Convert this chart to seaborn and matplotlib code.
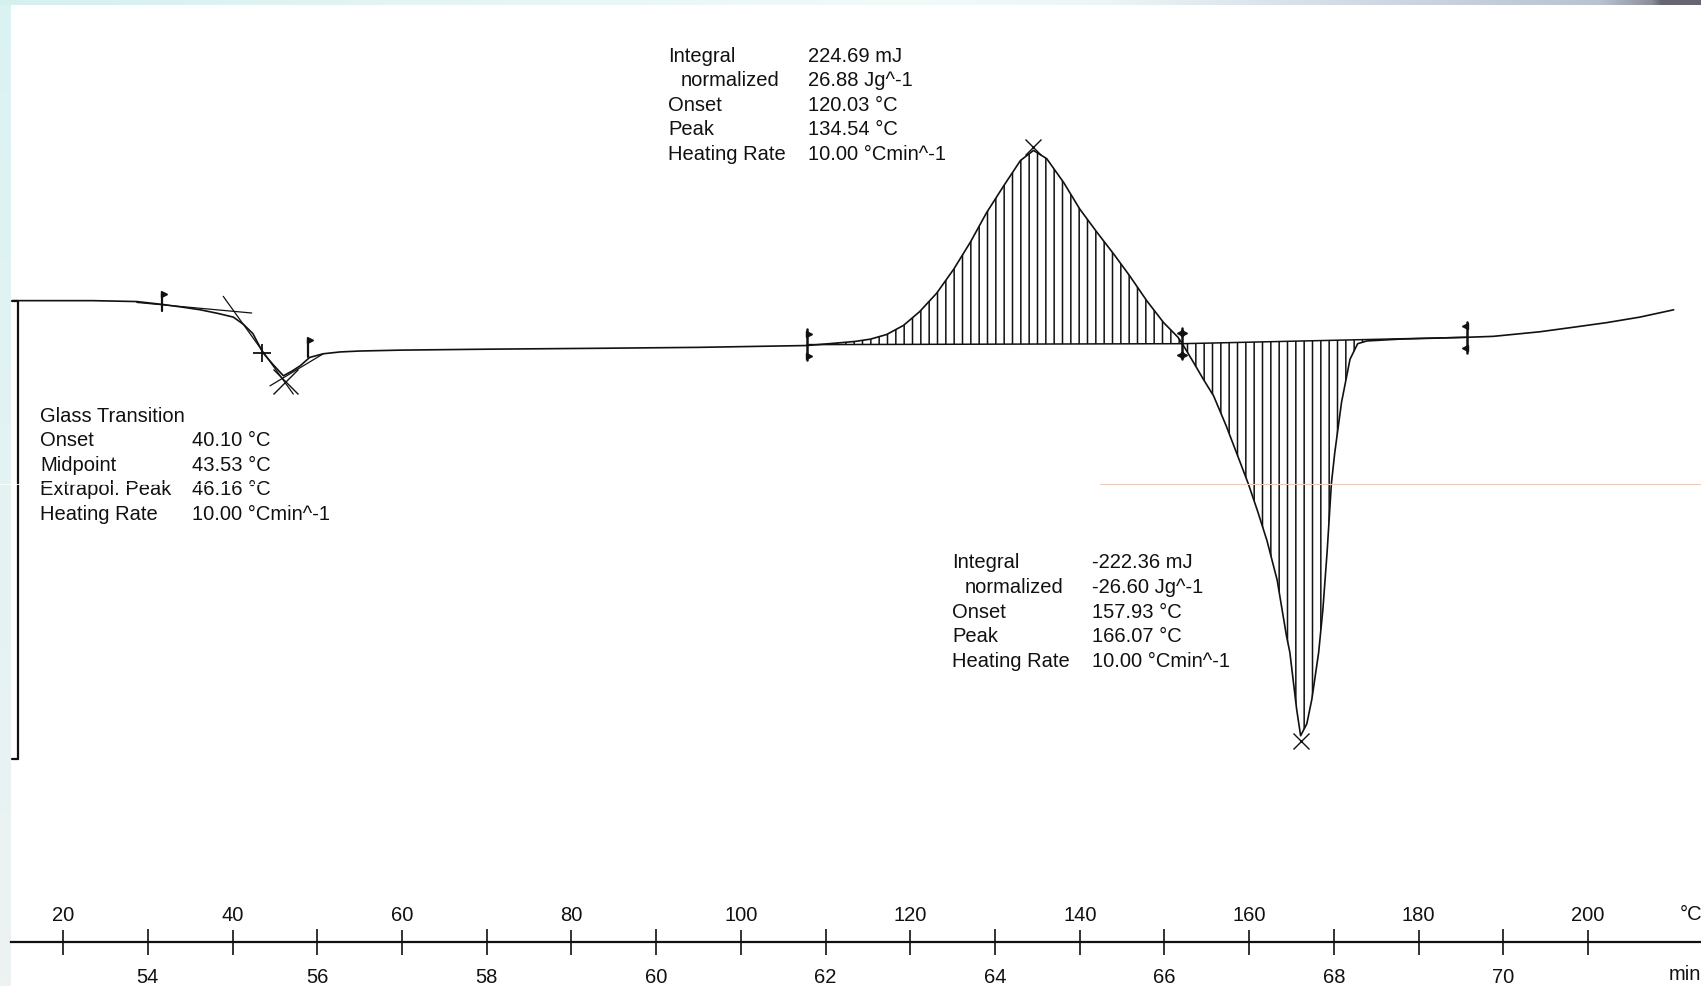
import numpy as np
import matplotlib
matplotlib.use("Agg")
import matplotlib.pyplot as plt
from matplotlib.lines import Line2D
import seaborn as sns

# ---------------------------------------------------------------------------
# DSC heating scan (10 °C/min): sample temperature (°C) vs heat flow (mW, exo up)
# ---------------------------------------------------------------------------
temperature = [
    14.05, 18.0, 23.5, 28.7, 31.6, 34.0, 36.2, 38.3, 40.1, 41.3, 42.4, 43.6,
    44.8, 46.0, 47.0, 48.0, 49.1, 50.7, 52.7, 55.0, 60.0, 70.0, 83.4, 95.0,
    107.8, 111.7, 113.5, 115.3, 117.2, 119.2, 121.1, 123.1, 125.1, 127.1, 129.0,
    131.0, 133.0, 134.54, 136.1, 138.1, 140.0, 142.0, 144.0, 145.9, 147.9,
    149.9, 151.6, 152.1, 153.4, 154.6, 155.8, 157.3, 158.5, 159.9, 161.0,
    162.1, 163.3, 164.4, 164.8, 165.6, 166.07, 166.8, 167.4, 168.2, 168.7,
    169.2, 169.7, 170.1, 170.9, 171.9, 172.8, 173.9, 177.8, 185.7, 188.8,
    194.3, 198.3, 202.2, 206.1, 210.1,
]
heat_flow = [
    0.00, 0.00, 0.00, -0.01, -0.04, -0.07, -0.10, -0.14, -0.18, -0.26, -0.36, -0.57,
    -0.70, -0.82, -0.77, -0.71, -0.62, -0.58, -0.56, -0.55, -0.54, -0.53, -0.52, -0.51,
    -0.49, -0.46, -0.445, -0.42, -0.37, -0.27, -0.12, 0.08, 0.34, 0.64, 0.96,
    1.25, 1.53, 1.64, 1.55, 1.29, 1.00, 0.75, 0.51, 0.27, 0.00,
    -0.24, -0.40, -0.47, -0.67, -0.86, -1.04, -1.37, -1.66, -2.00, -2.30,
    -2.62, -3.05, -3.66, -3.84, -4.46, -4.75, -4.62, -4.35, -3.84, -3.37,
    -2.74, -2.00, -1.66, -1.11, -0.64, -0.47, -0.44, -0.42, -0.40, -0.39,
    -0.34, -0.29, -0.24, -0.18, -0.10,
]

# Axis ticks
temp_ticks = [20, 40, 60, 80, 100, 120, 140, 160, 180, 200]
time_ticks = [54, 56, 58, 60, 62, 64, 66, 68, 70]

# Glass transition evaluation
gt_labels = ["Glass Transition", "Onset", "Midpoint", "Extrapol. Peak", "Heating Rate"]
gt_values = ["", "40.10 °C", "43.53 °C", "46.16 °C", "10.00 °Cmin^-1"]
gt_midpoint = (43.53, -0.57)
gt_extrapol_peak = (46.16, -0.88)
gt_tangents = [
    ([28.7, 42.26], [-0.02, -0.135]),
    ([38.9, 47.17], [0.047, -1.02]),
    ([44.42, 50.71], [-0.93, -0.58]),
]
gt_limits = [(31.64, -0.05), (48.94, -0.55)]

# Exothermic (cold crystallisation) peak
exo_labels = ["Integral", "normalized", "Onset", "Peak", "Heating Rate"]
exo_values = ["224.69 mJ", "26.88 Jg^-1", "120.03 °C", "134.54 °C", "10.00 °Cmin^-1"]
exo_peak = (134.54, 1.64)
exo_baseline = ([107.8, 152.1], [-0.48, -0.47])

# Endothermic (melting) peak
endo_labels = ["Integral", "normalized", "Onset", "Peak", "Heating Rate"]
endo_values = ["-222.36 mJ", "-26.60 Jg^-1", "157.93 °C", "166.07 °C", "10.00 °Cmin^-1"]
endo_peak = (166.07, -4.75)
endo_baseline = ([152.1, 185.7], [-0.47, -0.40])

# 5 mW heat-flow scale bar
scale_bar = ([14.7, 14.7], [0.0, -5.0])

T_START, T_END = 12.55, 213.33
HF_MIN, HF_MAX = -7.482, 3.293
W, H = 1701, 987


def T_to_time(T):
    return 54.0 + (np.asarray(T) - 30.0) / 10.0


def time_to_T(t):
    return 30.0 + (np.asarray(t) - 54.0) * 10.0


sns.set_theme(style="white")
plt.rcParams["font.family"] = ["Liberation Sans", "DejaVu Sans"]
plt.rcParams["hatch.linewidth"] = 1.1
FS = 14.5
INK = "#111111"

fig = plt.figure(figsize=(W / 100, H / 100), dpi=100)

# Window background: pale cyan frame with a darkening title strip on the right
bg = np.ones((H, W, 3))
xs = np.arange(W)
stops_x = [0, 900, 1100, 1600, 1650, 1660, W]
stops_c = np.array([
    [0.84, 0.94, 0.94], [0.95, 0.98, 0.98], [0.93, 0.96, 0.97],
    [0.72, 0.76, 0.82], [0.55, 0.56, 0.60], [0.40, 0.40, 0.44], [0.40, 0.40, 0.44],
])
strip = np.stack([np.interp(xs, stops_x, stops_c[:, c]) for c in range(3)], axis=-1)
bg[:6, :, :] = strip[None, :, :]
ys = np.arange(H)
left_col = np.stack([np.interp(ys, [0, H], [0.86, 0.93]),
                     np.interp(ys, [0, H], [0.95, 0.95]),
                     np.interp(ys, [0, H], [0.95, 0.95])], axis=-1)
bg[6:, :11, :] = left_col[6:, None, :]
bgax = fig.add_axes([0, 0, 1, 1], zorder=-5)
bgax.imshow(bg, aspect="auto", interpolation="nearest")
bgax.axis("off")

# Main plotting area
ax = fig.add_axes([0, 0, 1, 1])
ax.patch.set_alpha(0)
ax.set_xlim(T_START, T_END)
ax.set_ylim(HF_MIN, HF_MAX)
ax.axis("off")

T = np.array(temperature)
HF = np.array(heat_flow)

# Hatched peak areas between curve and integration baselines
m = (T >= exo_baseline[0][0]) & (T <= exo_baseline[0][1])
ax.fill_between(T[m], np.interp(T[m], *exo_baseline), HF[m], facecolor="none",
                edgecolor=INK, hatch="||", linewidth=0)
m = (T >= endo_baseline[0][0]) & (T <= 177.8)
ax.fill_between(T[m], np.interp(T[m], *endo_baseline), HF[m], facecolor="none",
                edgecolor=INK, hatch="||", linewidth=0)

ax.plot(*exo_baseline, color=INK, lw=1.1)
ax.plot(*endo_baseline, color=INK, lw=1.1)

# Heat-flow curve
sns.lineplot(x=T, y=HF, ax=ax, color=INK, lw=1.2, sort=False, estimator=None)

# Scale bar
ax.plot(*scale_bar, color=INK, lw=1.6)
for yv in scale_bar[1]:
    ax.plot([13.95, 14.7], [yv, yv], color=INK, lw=1.6)

# Glass transition construction
for xs_, ys_ in gt_tangents:
    ax.plot(xs_, ys_, color=INK, lw=0.9)
ax.plot(*gt_midpoint, marker="+", ms=13, mew=1.3, color=INK)
ax.plot(*gt_extrapol_peak, marker="x", ms=18, mew=1.0, color=INK)
for tx, hv in gt_limits:
    ax.plot([tx, tx], [hv + 0.12, hv - 0.06], color=INK, lw=1.6)
    ax.plot(tx + 0.25, hv + 0.12, marker=">", ms=5, color=INK)

# Integration limit markers
for tx, hv, mk in [(107.8, -0.48, [">"]), (152.1, -0.47, ["<", ">"]), (185.7, -0.40, ["<"])]:
    ax.plot([tx, tx], [hv + 0.17, hv - 0.17], color=INK, lw=1.8)
    for k in mk:
        off = 0.25 if k == ">" else -0.25
        ax.plot(tx + off, hv + 0.12, marker=k, ms=5, color=INK)
        ax.plot(tx + off, hv - 0.12, marker=k, ms=5, color=INK)

# Peak markers
ax.plot(exo_peak[0], exo_peak[1] + 0.04, marker="x", ms=11, mew=1.0, color=INK)
ax.plot(endo_peak[0], endo_peak[1] - 0.06, marker="x", ms=12, mew=1.0, color=INK)


def px_text(x, y, s):
    fig.text(x / W, 1 - y / H, s, ha="left", va="center", fontsize=FS, color=INK)


def block(x_lab, x_val, y0, labels, values, indent_idx=None, dy=24.6):
    for i, (lab, val) in enumerate(zip(labels, values)):
        xl = x_lab + (13 if i == indent_idx else 0)
        px_text(xl, y0 + i * dy, lab)
        if val:
            px_text(x_val, y0 + i * dy, val)


block(668, 808, 56, exo_labels, exo_values, indent_idx=1)
block(40, 192, 416, gt_labels, gt_values)
block(952, 1092, 563, endo_labels, endo_values, indent_idx=1)

# Dual temperature / time axis
axis_y = 942.7
x0 = 11
axx = fig.add_axes([x0 / W, 1 - axis_y / H, 1 - x0 / W, 0])
axx.patch.set_alpha(0)
axx.set_xlim(T_START + x0 / 8.472, T_END)
for s in ["top", "left", "right"]:
    axx.spines[s].set_visible(False)
axx.spines["bottom"].set_color(INK)
axx.spines["bottom"].set_linewidth(1.6)
axx.set_yticks([])
axx.set_xticks(temp_ticks)
axx.set_xticklabels([str(v) for v in temp_ticks])
axx.tick_params(axis="x", bottom=True, top=False, labelbottom=False, labeltop=True,
                direction="inout", length=18, width=1.2, color=INK,
                labelsize=FS, labelcolor=INK, pad=4)
sec = axx.secondary_xaxis("bottom", functions=(T_to_time, time_to_T))
sec.set_xticks(time_ticks)
sec.set_xticklabels([str(v) for v in time_ticks])
sec.spines["bottom"].set_visible(False)
sec.tick_params(axis="x", direction="inout", length=19, width=1.2, color=INK,
                labelsize=FS, labelcolor=INK, pad=9)
px_text(1680, 915, "°C")
px_text(1669, 975, "min")

# Faint horizontal scan line across the window
fig.add_artist(Line2D([0, 1100 / W], [1 - 485 / H] * 2, color="white", lw=0.6, zorder=10))
fig.add_artist(Line2D([1100 / W, 1], [1 - 485 / H] * 2, color="#eccbb8", lw=0.8, zorder=10))

fig.savefig("out.png", dpi=100)
